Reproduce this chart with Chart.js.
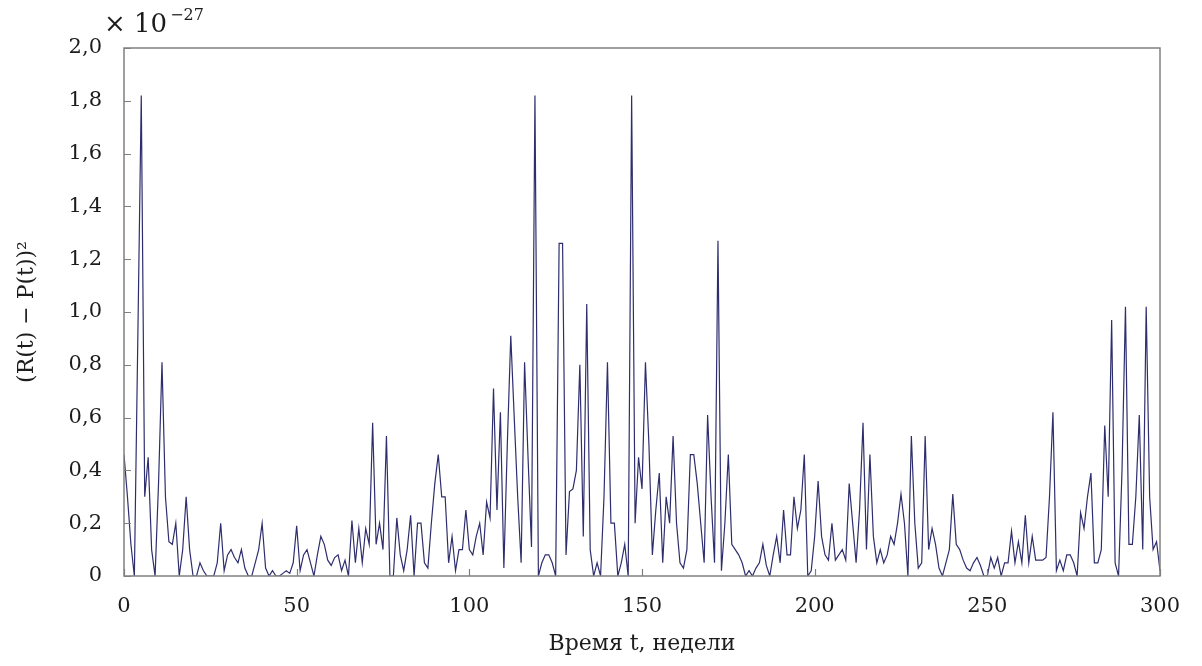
<!DOCTYPE html>
<html lang="ru">
<head>
<meta charset="utf-8">
<title>(R(t) − P(t))²</title>
<script src="https://cdn.jsdelivr.net/npm/chart.js@4.4.0/dist/chart.umd.min.js"></script>
<style>
  html, body { margin: 0; padding: 0; background: #fff; }
  #wrap { width: 1202px; height: 666px; }
</style>
</head>
<body>
<div id="wrap"><canvas id="myChart" width="1202" height="666"></canvas></div>
<script>
"use strict";

// weeks t = 0 .. 300
const weeks = Array.from({ length: 301 }, (_, i) => i);

// (R(t) - P(t))^2 in units of 1e-27
const errorSq = [
  0.46, 0.30, 0.12, 0.00, 0.90, 1.82, 0.30, 0.45, 0.10, 0.00,   // 0-9
  0.35, 0.81, 0.30, 0.13, 0.12, 0.20, 0.00, 0.10, 0.30, 0.10,   // 10-19
  0.00, 0.00, 0.05, 0.02, 0.00, 0.00, 0.00, 0.05, 0.20, 0.02,   // 20-29
  0.08, 0.10, 0.07, 0.05, 0.10, 0.03, 0.00, 0.00, 0.05, 0.10,   // 30-39
  0.20, 0.03, 0.00, 0.02, 0.00, 0.00, 0.01, 0.02, 0.01, 0.05,   // 40-49
  0.19, 0.02, 0.08, 0.10, 0.05, 0.00, 0.08, 0.15, 0.12, 0.06,   // 50-59
  0.04, 0.07, 0.08, 0.02, 0.06, 0.00, 0.21, 0.05, 0.18, 0.05,   // 60-69
  0.18, 0.12, 0.58, 0.12, 0.20, 0.10, 0.53, 0.00, 0.00, 0.22,   // 70-79
  0.08, 0.02, 0.10, 0.23, 0.00, 0.20, 0.20, 0.05, 0.03, 0.20,   // 80-89
  0.35, 0.46, 0.30, 0.30, 0.05, 0.15, 0.02, 0.10, 0.10, 0.25,   // 90-99
  0.10, 0.08, 0.15, 0.20, 0.08, 0.28, 0.22, 0.71, 0.25, 0.62,   // 100-109
  0.03, 0.50, 0.91, 0.60, 0.30, 0.05, 0.81, 0.45, 0.11, 1.82,   // 110-119
  0.00, 0.05, 0.08, 0.08, 0.05, 0.00, 1.26, 1.26, 0.08, 0.32,   // 120-129
  0.33, 0.40, 0.80, 0.15, 1.03, 0.10, 0.00, 0.05, 0.00, 0.30,   // 130-139
  0.81, 0.20, 0.20, 0.00, 0.05, 0.12, 0.00, 1.82, 0.20, 0.45,   // 140-149
  0.33, 0.81, 0.50, 0.08, 0.25, 0.39, 0.05, 0.30, 0.20, 0.53,   // 150-159
  0.20, 0.05, 0.03, 0.10, 0.46, 0.46, 0.35, 0.20, 0.05, 0.61,   // 160-169
  0.30, 0.05, 1.27, 0.02, 0.20, 0.46, 0.12, 0.10, 0.08, 0.05,   // 170-179
  0.00, 0.02, 0.00, 0.03, 0.05, 0.12, 0.04, 0.00, 0.08, 0.15,   // 180-189
  0.05, 0.25, 0.08, 0.08, 0.30, 0.18, 0.25, 0.46, 0.00, 0.02,   // 190-199
  0.15, 0.36, 0.15, 0.08, 0.06, 0.20, 0.06, 0.08, 0.10, 0.06,   // 200-209
  0.35, 0.20, 0.05, 0.25, 0.58, 0.10, 0.46, 0.15, 0.05, 0.10,   // 210-219
  0.05, 0.08, 0.15, 0.12, 0.20, 0.31, 0.20, 0.00, 0.53, 0.20,   // 220-229
  0.03, 0.05, 0.53, 0.10, 0.18, 0.12, 0.03, 0.00, 0.05, 0.10,   // 230-239
  0.31, 0.12, 0.10, 0.06, 0.03, 0.02, 0.05, 0.07, 0.04, 0.00,   // 240-249
  0.00, 0.07, 0.03, 0.07, 0.00, 0.05, 0.05, 0.17, 0.05, 0.13,   // 250-259
  0.05, 0.23, 0.05, 0.15, 0.06, 0.06, 0.06, 0.07, 0.30, 0.62,   // 260-269
  0.02, 0.06, 0.02, 0.08, 0.08, 0.05, 0.00, 0.24, 0.18, 0.30,   // 270-279
  0.39, 0.05, 0.05, 0.10, 0.57, 0.30, 0.97, 0.05, 0.00, 0.40,   // 280-289
  1.02, 0.12, 0.12, 0.30, 0.61, 0.10, 1.02, 0.30, 0.10, 0.13,   // 290-299
  0.02                                                          // 300
];

const xTicks = [0, 50, 100, 150, 200, 250, 300];
const yTicks = [0, 0.2, 0.4, 0.6, 0.8, 1.0, 1.2, 1.4, 1.6, 1.8, 2.0];

const xTitle = 'Время t, недели';
const yTitle = '(R(t) − P(t))²';
const expBase = '× 10';
const expPower = '−27';

const serif = '"DejaVu Serif", "Liberation Serif", serif';
const textColor = '#1c1c1c';
const frameColor = '#808080';
const lineColor = '#2e2e6e';

// box around the plot, inner tick marks and the ×10^-27 multiplier
const frameAndTicks = {
  id: 'frameAndTicks',
  afterDraw(chart) {
    const { ctx, chartArea: a, scales: { x, y } } = chart;
    ctx.save();
    ctx.strokeStyle = frameColor;
    ctx.lineWidth = 1.5;
    ctx.strokeRect(a.left, a.top, a.right - a.left, a.bottom - a.top);

    ctx.lineWidth = 1.2;
    ctx.beginPath();
    yTicks.forEach(v => {
      const py = Math.round(y.getPixelForValue(v)) + 0.5;
      ctx.moveTo(a.left, py);
      ctx.lineTo(a.left + 7, py);
    });
    xTicks.forEach(v => {
      const px = Math.round(x.getPixelForValue(v)) + 0.5;
      ctx.moveTo(px, a.bottom);
      ctx.lineTo(px, a.bottom - 7);
    });
    ctx.stroke();

    ctx.fillStyle = textColor;
    ctx.textBaseline = 'alphabetic';
    ctx.textAlign = 'left';
    ctx.font = '26px ' + serif;
    ctx.fillText(expBase, 104, 32);
    const w = ctx.measureText(expBase).width;
    ctx.font = '16px ' + serif;
    ctx.fillText(expPower, 104 + w + 3, 20);
    ctx.restore();
  }
};

const ctx = document.getElementById('myChart').getContext('2d');

new Chart(ctx, {
  type: 'line',
  data: {
    datasets: [{
      data: weeks.map((t, i) => ({ x: t, y: errorSq[i] })),
      borderColor: lineColor,
      borderWidth: 1.2,
      pointRadius: 0,
      tension: 0,
      fill: false
    }]
  },
  options: {
    responsive: false,
    animation: false,
    layout: { padding: { top: 48, right: 42, left: 0, bottom: 0 } },
    plugins: {
      legend: { display: false },
      tooltip: { enabled: false }
    },
    scales: {
      x: {
        type: 'linear',
        min: 0,
        max: 300,
        afterFit: s => { s.height = 90; },
        afterBuildTicks: s => { s.ticks = xTicks.map(v => ({ value: v })); },
        grid: { display: false, drawTicks: false },
        border: { display: false },
        ticks: {
          color: textColor,
          font: { family: serif, size: 21 },
          padding: 18,
          maxRotation: 0
        },
        title: {
          display: true,
          text: xTitle,
          color: textColor,
          font: { family: serif, size: 22 },
          padding: { top: 0, bottom: 9 }
        }
      },
      y: {
        min: 0,
        max: 2,
        afterFit: s => { s.width = 124; },
        afterBuildTicks: s => { s.ticks = yTicks.map(v => ({ value: v })); },
        grid: { display: false, drawTicks: false },
        border: { display: false },
        ticks: {
          color: textColor,
          font: { family: serif, size: 21 },
          padding: 22,
          callback: v => v === 0 ? '0' : v.toFixed(1).replace('.', ',')
        },
        title: {
          display: true,
          text: yTitle,
          color: textColor,
          font: { family: serif, size: 22 },
          padding: { top: 14, bottom: 0 }
        }
      }
    }
  },
  plugins: [frameAndTicks]
});
</script>
</body>
</html>
